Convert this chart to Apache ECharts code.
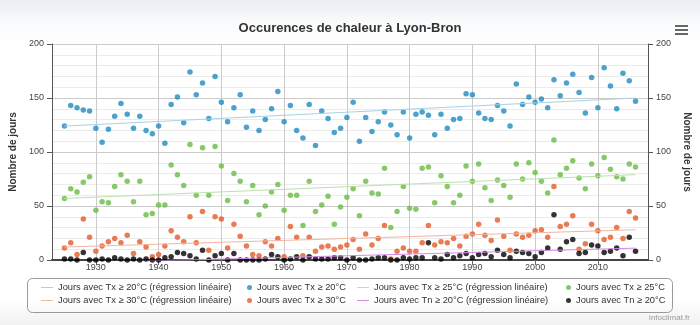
<!DOCTYPE html>
<html><head><meta charset="utf-8">
<script src="https://cdn.jsdelivr.net/npm/echarts@6/dist/echarts.min.js"></script>
<style>html,body{margin:0;padding:0;background:#fff}#c{width:700px;height:325px}</style>
</head><body><div id="c"></div>
<script>
const chartTitle = 'Occurences de chaleur à Lyon-Bron';
const axisFirstYear = 1923, axisLastYear = 2018;
const dataFirstYear = 1925, dataLastYear = 2016;
const yTicks = [0, 50, 100, 150, 200];

const nameTx20 = 'Jours avec Tx ≥ 20°C';
const nameTx25 = 'Jours avec Tx ≥ 25°C';
const nameTx30 = 'Jours avec Tx ≥ 30°C';
const nameTn20 = 'Jours avec Tn ≥ 20°C';
const regSuffix = ' (régression linéaire)';

const tx20 = [124,143,141,139,138, 122,109,121,133,145, 135,122,133,120,117, 124,108,144,151,127,
  174,153,164,131,170, 146,128,141,153,123, 138,120,130,140,156, 128,143,120,113,144,
  106,138,131,118,122, 132,146,110,132,119, 128,137,125,116,137, 113,135,137,134,116,
  135,122,130,131,154, 153,136,131,130,143, 138,124,163,144,151, 146,149,141,167,152,
  164,172,155,136,169, 141,178,161,140,173, 166,147];
const tx25 = [57,66,63,72,77, 46,54,53,68,79, 73,54,73,42,43, 51,51,88,79,69,
  107,60,104,60,105, 87,55,80,73,54, 69,42,50,63,70, 46,60,60,32,73,
  45,51,59,33,49, 58,66,41,73,62, 61,85,30,45,68, 48,47,85,86,53,
  78,68,53,60,87, 73,89,67,55,74, 69,58,89,75,90, 81,73,62,111,79,
  85,92,76,66,89, 78,95,84,77,75, 89,86];
const tx30 = [11,16,5,38,21, 8,13,17,20,16, 23,6,17,12,3, 5,13,27,21,17,
  40,16,45,9,40, 38,11,33,22,13, 5,4,17,13,20, 3,31,21,4,21,
  8,12,13,10,12, 14,19,10,24,14, 20,32,1,8,11, 8,8,16,32,14,
  17,16,20,13,22, 24,33,23,18,37, 22,9,24,21,23, 27,28,21,68,31,
  33,41,10,15,33, 27,19,21,30,20, 45,39];
const tn20 = [1,1,0,7,0, 0,1,0,2,1, 0,1,0,1,0, 0,2,3,7,6,
  4,1,9,0,4, 6,0,6,0,0, 0,0,1,5,3, 0,1,3,0,3,
  1,1,1,2,2, 0,2,0,0,1, 2,2,0,0,2, 1,2,2,16,2,
  1,5,2,4,6, 2,5,6,3,9, 5,2,8,7,6, 3,7,11,42,10,
  17,19,6,7,14, 13,7,8,11,4, 21,8];

// regression lines: values at first and last data year
const regYears = ['1925', '2016'];
const regTx20 = [124, 150];
const regTx25 = [57, 79];
const regTx30 = [12, 28];
const regTn20 = [-3, 11];

const colTx20 = '#1f8bbf', colTx25 = '#69bb43', colTx30 = '#e35a2a', colTn20 = '#000000';
const colRegTx20 = '#a6d2e8', colRegTx25 = '#b9e2a8', colRegTx30 = '#f3b6a0', colRegTn20 = '#d48be6';

const axisYears = [];
for (let y = axisFirstYear; y <= axisLastYear; y++) axisYears.push(String(y));
const dataYears = [];
for (let y = dataFirstYear; y <= dataLastYear; y++) dataYears.push(String(y));

const decade = (i, v) => (+v) % 10 === 0;
const FONT = "'Liberation Sans', Arial, sans-serif";
const LINE_ICON = 'path://M0,0 L12,0 L12,1 L0,1 Z';

function regSeries(name, vals, color) {
  return { name, type: 'line', data: regYears.map((y, i) => [y, vals[i]]), symbol: 'none',
    lineStyle: { color, width: 1 }, itemStyle: { color }, clip: true, silent: true };
}
function ptSeries(name, vals, color) {
  return { name, type: 'scatter', data: dataYears.map((y, i) => [y, vals[i]]), symbolSize: 5.5,
    itemStyle: { color }, silent: true };
}

function yAx(pos) {
  return {
    type: 'value', min: yTicks[0], max: yTicks[yTicks.length - 1], interval: 50, position: pos,
    name: 'Nombre de jours', nameLocation: 'middle', nameGap: pos === 'left' ? 18 : 18,
    nameRotate: pos === 'left' ? 90 : -90,
    nameTextStyle: { fontWeight: 'bold', fontSize: 10, color: '#333', fontFamily: FONT },
    axisLine: { show: true, lineStyle: { color: '#555', width: 1 } },
    axisTick: { show: true, length: 5, lineStyle: { color: '#555' } },
    axisLabel: { fontSize: 9, color: '#444', margin: 8, fontFamily: FONT },
    splitLine: { show: pos === 'left', lineStyle: { color: '#cbcbcb' } },
    minorTick: { show: false, splitNumber: 5 },
    minorSplitLine: { show: pos === 'left', lineStyle: { color: '#ebebeb' } }
  };
}

function leg(left, names, w, isLine) {
  return { left, top: 277, orient: 'vertical', itemGap: 2, itemWidth: w, itemHeight: 5,
    data: names.map(n => isLine ? { name: n, icon: LINE_ICON } : { name: n, icon: 'circle' }),
    selectedMode: false,
    textStyle: { fontSize: 9.3, color: '#333', lineHeight: 11, fontFamily: FONT } };
}

const chart = echarts.init(document.getElementById('c'), null, { renderer: 'canvas' });
chart.setOption({
  animation: false,
  backgroundColor: { type: 'linear', x: 0, y: 0, x2: 0, y2: 1, colorStops: [
    { offset: 0, color: '#e9eef2' }, { offset: 0.07, color: '#fafbfc' }, { offset: 0.14, color: '#ffffff' },
    { offset: 0.92, color: '#ffffff' }, { offset: 1, color: '#f1f1f1' }] },
  title: { text: chartTitle, left: 'center', top: 17,
    textStyle: { fontSize: 13, fontWeight: 'bold', color: '#333', fontFamily: FONT } },
  grid: { left: 47, right: 51, top: 44, bottom: 65, containLabel: false },
  xAxis: {
    type: 'category', data: axisYears, boundaryGap: false,
    axisLine: { lineStyle: { color: '#444', width: 2 } },
    axisTick: { interval: decade, length: 5, lineStyle: { color: '#666' } },
    axisLabel: { interval: decade, fontSize: 9, color: '#444', margin: 3, fontFamily: FONT },
    splitLine: { show: true, interval: decade, lineStyle: { color: '#cbcbcb' } }
  },
  yAxis: [yAx('left'), yAx('right')],
  legend: [
    leg(36, [nameTx20 + regSuffix, nameTx30 + regSuffix], 12, true),
    leg(242, [nameTx20, nameTx30], 5, false),
    leg(352, [nameTx25 + regSuffix, nameTn20 + regSuffix], 12, true),
    leg(561, [nameTx25, nameTn20], 5, false)
  ],
  series: [
    regSeries(nameTx20 + regSuffix, regTx20, colRegTx20),
    ptSeries(nameTx20, tx20, colTx20),
    regSeries(nameTx25 + regSuffix, regTx25, colRegTx25),
    ptSeries(nameTx25, tx25, colTx25),
    regSeries(nameTx30 + regSuffix, regTx30, colRegTx30),
    ptSeries(nameTx30, tx30, colTx30),
    regSeries(nameTn20 + regSuffix, regTn20, colRegTn20),
    ptSeries(nameTn20, tn20, colTn20)
  ],
  graphic: [
    { type: 'rect', shape: { x: 27.5, y: 278.5, width: 645, height: 34, r: 5 },
      style: { fill: 'none', stroke: '#9a9a9a', lineWidth: 1 }, silent: true },
    { type: 'rect', shape: { x: 675, y: 25, width: 13, height: 2 }, style: { fill: '#666' } },
    { type: 'rect', shape: { x: 675, y: 29, width: 13, height: 2 }, style: { fill: '#666' } },
    { type: 'rect', shape: { x: 675, y: 33, width: 13, height: 2 }, style: { fill: '#666' } },
    { type: 'text', right: 10, top: 314, style: { text: 'infoclimat.fr', fontSize: 8, fill: '#9a9a9a',
      fontFamily: FONT } }
  ]
});
</script>
</body></html>
